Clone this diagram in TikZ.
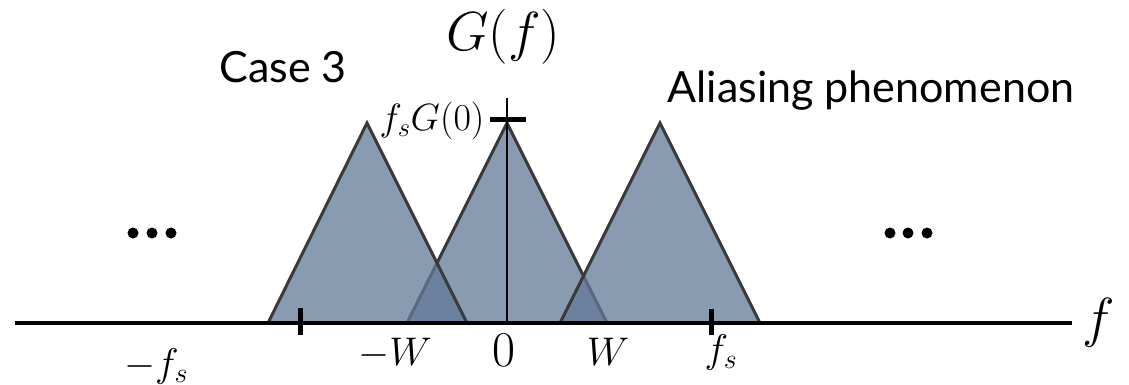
\RequirePackage{fix-cm}
\documentclass[tikz,border=0pt]{standalone}
\usepackage{fontspec}
\setsansfont{Lato}
\definecolor{slate}{RGB}{98,121,150}
\definecolor{edgegray}{RGB}{58,58,58}
\tikzset{
  spectrum/.style={fill=slate, fill opacity=0.75, draw=edgegray, line width=3pt, line join=miter},
  tickmark/.style={line width=5pt},
  hugemath/.style={font=\fontsize{55}{60}\selectfont},
  bigmath/.style={font=\fontsize{40}{44}\selectfont},
  peakmath/.style={font=\fontsize{38}{42}\selectfont},
  caption/.style={font=\sffamily\fontsize{43}{48}\selectfont}
}
\begin{document}
\begin{tikzpicture}[x=1pt,y=-1pt]
\useasboundingbox (0,0) rectangle (1129,385);

\draw[spectrum] (407,323) -- (507,123) -- (607,323);
\draw[spectrum] (268,323) -- (367,123) -- (467,323);
\draw[spectrum] (560,323) -- (660,123) -- (760,323);

\draw[line width=4pt] (15,323) -- (1072,323);
\draw[line width=1.5pt] (507,98) -- (507,323);
\draw[tickmark] (490,120) -- (526,120);
\draw[tickmark] (300,308) -- (300,335);
\draw[tickmark] (711,309) -- (711,335);

\fill (133,233) circle (5.5pt) (152,233) circle (5.5pt) (171,233) circle (5.5pt);
\fill (890,233) circle (5.5pt) (908,233) circle (5.5pt) (927,233) circle (5.5pt);

\node[hugemath, anchor=base] (gf) at (503,51) {$G(f)$};
\node[peakmath, anchor=base] (peak) at (432,131) {$f_sG(0)$};
\node[hugemath, anchor=base] (faxis) at (1099,336) {$f$};
\node[font=\fontsize{50}{54}\selectfont, anchor=base] (zero) at (504,366) {$0$};
\node[bigmath, anchor=base] (mw) at (395,365) {$-W$};
\node[bigmath, anchor=base] (pw) at (608,365) {$W$};
\node[bigmath, anchor=base] (pfs) at (721,362) {$f_s$};
\node[bigmath, anchor=base] (mfs) at (156,376) {$-f_s$};

\node[caption, anchor=base] (case) at (283,83) {Case 3};
\node[caption, anchor=base] (alias) at (871,103) {Aliasing phenomenon};
\end{tikzpicture}
\end{document}
